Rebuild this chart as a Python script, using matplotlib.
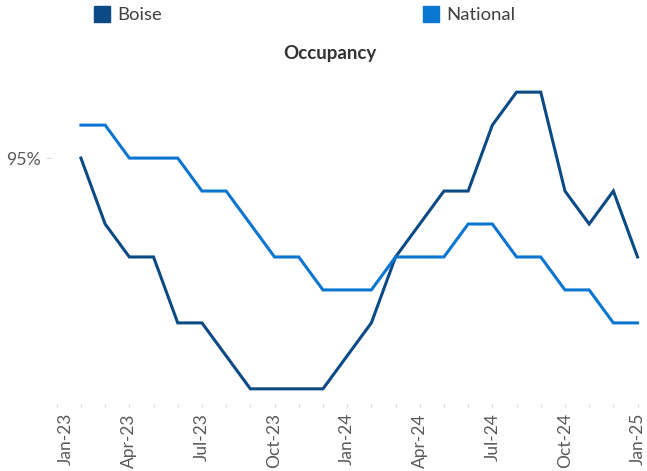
import matplotlib
matplotlib.use("Agg")
import matplotlib.pyplot as plt
from matplotlib.lines import Line2D
from matplotlib.transforms import ScaledTranslation
import numpy as np

plt.rcParams['font.family'] = ['Lato', 'DejaVu Sans']

# Data (monthly occupancy, %), Feb-23 .. Jan-25
months = ["Jan-23", "Feb-23", "Mar-23", "Apr-23", "May-23", "Jun-23", "Jul-23", "Aug-23",
          "Sep-23", "Oct-23", "Nov-23", "Dec-23", "Jan-24", "Feb-24", "Mar-24", "Apr-24",
          "May-24", "Jun-24", "Jul-24", "Aug-24", "Sep-24", "Oct-24", "Nov-24", "Dec-24",
          "Jan-25"]
boise = [95.0, 94.0, 93.5, 93.5, 92.5, 92.5, 92.0, 91.5, 91.5, 91.5, 91.5, 92.0,
         92.5, 93.5, 94.0, 94.5, 94.5, 95.5, 96.0, 96.0, 94.5, 94.0, 94.5, 93.5]
national = [95.5, 95.5, 95.0, 95.0, 95.0, 94.5, 94.5, 94.0, 93.5, 93.5, 93.0, 93.0,
            93.0, 93.5, 93.5, 93.5, 94.0, 94.0, 93.5, 93.5, 93.0, 93.0, 92.5, 92.5]
series_names = ["Boise", "National"]
y_ticks = [95]
y_tick_labels = ["95%"]

c_boise = "#0B4A84"
c_nat = "#0B76D2"

W, H = 647, 471
fig = plt.figure(figsize=(W / 100, H / 100), dpi=100)

left_px, right_px = 51.9, 647
bottom_px, top_px = 404, 75
ax = fig.add_axes([left_px / W, (H - bottom_px) / H,
                   (right_px - left_px) / W, (bottom_px - top_px) / H])

x = np.arange(1, len(months))
ax.plot(x, boise, color=c_boise, lw=2.2, solid_joinstyle='miter')
ax.plot(x, national, color=c_nat, lw=2.2, solid_joinstyle='miter')

ax.set_xlim(-0.2, 24.39)
ax.set_ylim(91.27, 96.26)

for s in ax.spines.values():
    s.set_visible(False)

major_idx = list(range(0, len(months), 3))
ax.set_xticks(major_idx)
ax.set_xticklabels([months[i] for i in major_idx], rotation=90,
                   fontsize=12.5, color="#595959")
ax.set_xticks(range(len(months)), minor=True)
ax.tick_params(axis='x', which='both', length=2.5, color="#D9D9D9", width=0.8, pad=4)

ax.set_yticks(y_ticks)
ax.set_yticklabels(y_tick_labels, fontsize=12.8, color="#595959")
ax.tick_params(axis='y', length=4, color="#D9D9D9", width=0.8, pad=4)

# first label nudged right as in reference
lbl = ax.get_xticklabels()[0]
lbl.set_transform(lbl.get_transform() + ScaledTranslation(9 / 100, 0, fig.dpi_scale_trans))

fig.text(330 / W, 1 - 54 / H, "Occupancy", ha='center', va='center',
         fontsize=13.5, fontweight='bold', color="#333333")

h1 = Line2D([], [], marker='s', ls='none', color=c_boise, markersize=11)
h2 = Line2D([], [], marker='s', ls='none', color=c_nat, markersize=11)
leg1 = fig.legend(handles=[h1], labels=[series_names[0]], loc='center left',
                  bbox_to_anchor=(94 / W, 1 - 15.5 / H), frameon=False,
                  fontsize=13.3, handlelength=0.9, handletextpad=0.35,
                  borderpad=0, borderaxespad=0, labelcolor="#404040")
leg2 = fig.legend(handles=[h2], labels=[series_names[1]], loc='center left',
                  bbox_to_anchor=(423 / W, 1 - 15.5 / H), frameon=False,
                  fontsize=13.3, handlelength=0.9, handletextpad=0.35,
                  borderpad=0, borderaxespad=0, labelcolor="#404040")

fig.savefig("out.png", dpi=100)
